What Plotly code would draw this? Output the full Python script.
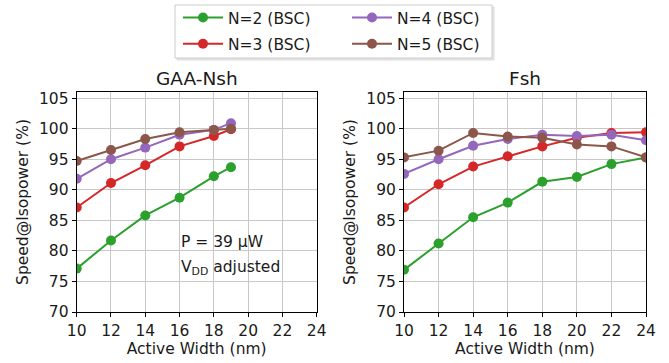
import plotly.graph_objects as go

# ---- data ----
x_gaa = [10, 12, 14, 16, 18, 19]
gaa_n2 = [77.1, 81.7, 85.8, 88.7, 92.2, 93.7]
gaa_n3 = [87.1, 91.1, 94.0, 97.1, 98.8, 99.9]
gaa_n4 = [91.8, 95.0, 96.9, 99.0, 99.8, 100.9]
gaa_n5 = [94.7, 96.5, 98.3, 99.4, 99.8, 100.0]

x_fsh = [10, 12, 14, 16, 18, 20, 22, 24]
fsh_n2 = [76.9, 81.2, 85.5, 87.9, 91.3, 92.1, 94.2, 95.3]
fsh_n3 = [87.1, 90.9, 93.8, 95.5, 97.1, 98.5, 99.3, 99.4]
fsh_n4 = [92.6, 95.0, 97.2, 98.3, 99.0, 98.8, 99.0, 98.1]
fsh_n5 = [95.3, 96.4, 99.3, 98.7, 98.5, 97.4, 97.1, 95.3]

names = ["N=2 (BSC)", "N=3 (BSC)", "N=4 (BSC)", "N=5 (BSC)"]
colors = ["#2ca02c", "#d62728", "#9467bd", "#8c564b"]
legend_ids = ["legend", "legend", "legend2", "legend2"]
x_ticks = [10, 12, 14, 16, 18, 20, 22, 24]
y_ticks = [70, 75, 80, 85, 90, 95, 100, 105]

FONT = "DejaVu Sans"
TXT = "#1a1a1a"
W, H = 669, 363

fig = go.Figure()
gaa = [gaa_n2, gaa_n3, gaa_n4, gaa_n5]
fsh = [fsh_n2, fsh_n3, fsh_n4, fsh_n5]
for i in range(4):
    fig.add_trace(go.Scatter(
        x=x_gaa, y=gaa[i], mode="lines+markers", name=names[i],
        line=dict(color=colors[i], width=2),
        marker=dict(color=colors[i], size=10),
        xaxis="x", yaxis="y", legend=legend_ids[i], legendgroup=names[i],
    ))
for i in range(4):
    fig.add_trace(go.Scatter(
        x=x_fsh, y=fsh[i], mode="lines+markers", name=names[i],
        line=dict(color=colors[i], width=2),
        marker=dict(color=colors[i], size=10),
        xaxis="x2", yaxis="y2", showlegend=False, legendgroup=names[i],
    ))

def px_x(p):
    return p / W

def px_y(p):
    return 1 - p / H

axis_common = dict(
    showline=True, linecolor="black", linewidth=1, mirror=True,
    ticks="outside", ticklen=4, tickcolor="black",
    showgrid=True, gridcolor="#c8c8c8", gridwidth=1,
    tickfont=dict(family=FONT, size=15.5, color=TXT),
    zeroline=False, automargin=False,
)

ydom = [px_y(312), px_y(92)]
fig.update_layout(
    width=W, height=H,
    margin=dict(l=0, r=0, t=0, b=0),
    paper_bgcolor="white", plot_bgcolor="white",
    font=dict(family=FONT, size=15.5, color=TXT),
    xaxis=dict(domain=[px_x(76.7), px_x(316.7)], range=[10, 24], tickvals=x_ticks,
               title=dict(text="Active Width (nm)", font=dict(size=15.5), standoff=2),
               anchor="y", **axis_common),
    yaxis=dict(domain=ydom, range=[70, 106], tickvals=y_ticks,
               title=dict(text="Speed@Isopower (%)", font=dict(size=15.5), standoff=6),
               anchor="x", **axis_common),
    xaxis2=dict(domain=[px_x(404), px_x(646)], range=[10, 24], tickvals=x_ticks,
                title=dict(text="Active Width (nm)", font=dict(size=15.5), standoff=2),
                anchor="y2", **axis_common),
    yaxis2=dict(domain=ydom, range=[70, 106], tickvals=y_ticks,
                title=dict(text="Speed@Isopower (%)", font=dict(size=15.5), standoff=6),
                anchor="x2", **axis_common),
    legend=dict(x=px_x(178), y=px_y(1), xanchor="left", yanchor="top",
                orientation="v", bgcolor="rgba(0,0,0,0)", borderwidth=0,
                font=dict(family=FONT, size=15.5, color=TXT),
                itemwidth=40, tracegroupgap=3),
    legend2=dict(x=px_x(347), y=px_y(1), xanchor="left", yanchor="top",
                 orientation="v", bgcolor="rgba(0,0,0,0)", borderwidth=0,
                 font=dict(family=FONT, size=15.5, color=TXT),
                 itemwidth=40, tracegroupgap=3),
    shapes=[
        dict(type="rect", xref="paper", yref="paper",
             x0=px_x(177), x1=px_x(494), y0=px_y(60), y1=px_y(7),
             line=dict(color="#dddddd", width=1), fillcolor="#e6e6e6",
             layer="below"),
        dict(type="rect", xref="paper", yref="paper",
             x0=px_x(175), x1=px_x(492), y0=px_y(58), y1=px_y(5),
             line=dict(color="#cccccc", width=1), fillcolor="white",
             layer="below"),
    ],
    annotations=[
        dict(text="GAA-Nsh", x=(px_x(76.7) + px_x(316.7)) / 2, y=px_y(79),
             xref="paper", yref="paper", xanchor="center", yanchor="middle",
             showarrow=False, font=dict(family=FONT, size=18.5, color=TXT)),
        dict(text="Fsh", x=(px_x(404) + px_x(646)) / 2, y=px_y(79),
             xref="paper", yref="paper", xanchor="center", yanchor="middle",
             showarrow=False, font=dict(family=FONT, size=18.5, color=TXT)),
        dict(text="P = 39 μW", x=px_x(179), y=px_y(242),
             xref="paper", yref="paper", xanchor="left", yanchor="middle",
             align="left", showarrow=False,
             font=dict(family=FONT, size=15.5, color=TXT)),
        dict(text="V<sub>DD</sub> adjusted", x=px_x(179), y=px_y(268),
             xref="paper", yref="paper", xanchor="left", yanchor="middle",
             align="left", showarrow=False,
             font=dict(family=FONT, size=15.5, color=TXT)),
    ],
)

fig.write_html("out.html")
